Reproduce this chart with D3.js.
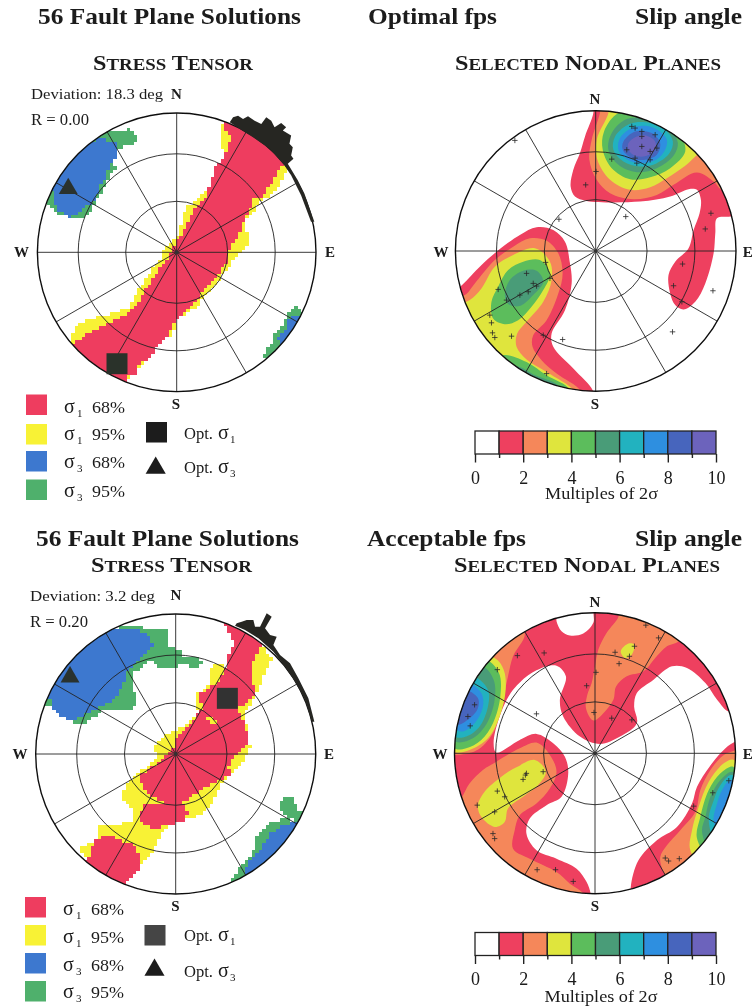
<!DOCTYPE html>
<html><head><meta charset="utf-8">
<script src="https://cdn.jsdelivr.net/npm/d3@7/dist/d3.min.js"></script>
<style>html,body{margin:0;padding:0;background:#fff}svg{display:block}text{font-family:"Liberation Serif",serif;fill:#1a1a1a}</style>
</head><body><svg id="c" width="752" height="1008"></svg>
<script>
// All regions: [east, north] in stereonet projection units, primitive circle = 420.
const multiples=[0,1,2,3,4,5,6,7,8,9,10];
const cardinal=["N","E","S","W"];
const spokeAzimuths=[0,30,60,90,120,150,180,210,240,270,300,330];
const ringPlunges=[30,60];
const legendNames=[["1","68%"],["1","95%"],["3","68%"],["3","95%"]];

// Panel A: optimal fps stress tensor
const aS1_95=[[258,327],[145,392],[130,372],[138,317],[142,277],[105,212],[70,167],[25,132],[15,92],[5,57],[-40,12],[-45,-18],[-90,-73],[-120,-123],[-145,-168],[-210,-188],[-270,-203],[-300,-218],[-323,-258],[-300,-303],[-150,-393],[-130,-363],[-110,-353],[-60,-283],[-25,-233],[-20,-253],[0,-228],[0,-203],[60,-163],[110,-103],[150,-58],[170,-28],[220,22],[220,47],[205,72],[215,107],[260,157],[310,197],[335,257],[330,267]];
const aS1_68=[[142,392],[145,372],[165,347],[155,317],[138,277],[110,252],[105,212],[85,167],[50,127],[35,92],[0,32],[-20,-3],[-30,-23],[-60,-63],[-90,-108],[-110,-143],[-145,-183],[-190,-208],[-240,-233],[-270,-248],[-295,-263],[-315,-273],[-330,-300],[-160,-400],[-150,-378],[-115,-363],[-115,-338],[-80,-318],[-60,-283],[-30,-258],[-15,-223],[25,-183],[60,-143],[80,-113],[120,-73],[150,-33],[160,7],[190,57],[205,107],[230,137],[235,172],[260,167],[290,217],[305,252],[330,267],[300,340],[250,380],[150,410]];
const aS3_95a=[[-200,362],[-145,370],[-112,347],[-115,332],[-175,312],[-190,267],[-185,257],[-210,217],[-235,167],[-265,117],[-280,102],[-305,99],[-335,112],[-370,122],[-390,147],[-420,160],[-400,260],[-300,340],[-210,390]];
const aS3_68a=[[-225,342],[-185,329],[-185,287],[-205,267],[-210,237],[-230,202],[-245,162],[-285,127],[-325,102],[-355,127],[-370,152],[-365,177],[-400,200],[-300,330]];
const aS3_95b=[[365,-161],[382,-178],[400,-190],[300,-320],[260,-318],[270,-288],[290,-273],[295,-243],[320,-218],[340,-178]];
const aS3_68b=[[350,-188],[370,-188],[390,-200],[320,-290],[315,-278],[305,-258],[330,-228],[335,-208]];
const aFringe=[[170,407],[185,412],[200,402],[215,410],[235,397],[255,387],[270,407],[285,397],[295,377],[315,390],[330,377],[320,367],[345,352],[340,327],[350,317],[345,292],[352,282],[335,267],[365,217],[385,177],[415,92],[405,92],[375,172],[345,232],[325,262],[280,312],[230,347],[190,372],[160,392]];
const aOptS1=[[-180,-336]];
const aOptS3=[[-327,192]];

// Panel C: acceptable fps stress tensor
const cS1_95=[[258,327],[291,287],[263,232],[238,172],[208,122],[218,52],[225,17],[198,-33],[173,-58],[143,-83],[113,-143],[63,-188],[33,-193],[-27,-218],[-52,-258],[-67,-288],[-97,-323],[-127,-363],[-152,-386],[-265,-318],[-292,-286],[-237,-258],[-232,-218],[-182,-213],[-132,-198],[-127,-163],[-167,-128],[-142,-83],[-122,-63],[-57,-13],[-65,22],[-37,52],[-7,67],[33,92],[78,132],[58,142],[58,177],[83,192],[103,212],[103,252],[123,270],[153,262],[168,292]];
const cS1_95patch=[[93,112],[113,107],[123,87],[98,92]];
const cS1_68a=[[143,392],[168,357],[173,332],[158,292],[153,262],[123,212],[73,182],[78,137],[43,92],[-2,47],[-7,22],[-37,-13],[-82,-48],[-115,-68],[-97,-98],[-67,-128],[-27,-148],[18,-148],[73,-108],[118,-83],[168,-63],[158,-38],[178,-3],[223,37],[208,82],[198,107],[183,132],[243,187],[223,222],[228,272],[258,327],[240,380],[160,410]];
const cS1_68b=[[-97,-153],[-27,-153],[18,-148],[38,-173],[23,-203],[-37,-213],[-57,-228],[-92,-208],[-112,-188]];
const cS1_68c=[[-247,-253],[-187,-246],[-127,-273],[-102,-318],[-112,-353],[-152,-383],[-180,-420],[-310,-320],[-265,-318],[-252,-288]];
const cS3_95a=[[-207,372],[-127,390],[-87,377],[-27,374],[-27,327],[18,312],[23,292],[73,287],[85,272],[58,257],[18,270],[-7,260],[-57,262],[-69,287],[-127,242],[-132,207],[-117,162],[-127,130],[-217,132],[-257,102],[-292,87],[-322,102],[-362,127],[-382,147],[-430,160],[-400,270],[-300,370]];
const cS3_68a=[[-197,370],[-117,374],[-82,354],[-69,327],[-102,287],[-142,257],[-162,202],[-182,162],[-232,142],[-267,122],[-302,102],[-337,110],[-365,132],[-372,162],[-420,180],[-380,270],[-290,360]];
const cS3_95b=[[318,-138],[343,-126],[358,-143],[363,-168],[388,-168],[430,-190],[320,-320],[170,-410],[168,-373],[208,-323],[233,-288],[243,-248],[283,-208],[323,-193],[353,-198],[308,-168]];
const cS3_68b=[[368,-203],[323,-213],[283,-238],[263,-273],[218,-318],[203,-363],[240,-370],[390,-220]];
const cFringe=[[183,392],[198,397],[213,402],[233,402],[238,382],[253,382],[273,422],[288,412],[268,377],[283,357],[303,352],[293,327],[313,297],[343,272],[368,227],[398,167],[416,97],[408,97],[388,162],[358,217],[328,262],[293,307],[248,347],[208,372],[178,385]];
const cOptS1=[[155,167]];
const cOptS3=[[-317,231]];

// Panel B: optimal fps nodal plane density, per contour level
const bNorth1=[[-7,413],[-32,343],[-47,293],[-67,243],[-75,193],[-62,163],[-27,150],[133,148],[223,163],[278,185],[303,183],[315,153],[311,113],[293,63],[278,8],[238,-32],[218,-72],[223,-127],[238,-162],[263,-175],[298,-152],[328,-97],[353,-7],[358,53],[363,98],[403,103],[440,110],[400,300],[250,400],[60,440],[-7,440]];
const bNorth2=[[13,415],[-12,333],[-19,273],[3,213],[43,173],[113,155],[183,168],[233,198],[303,235],[353,208],[378,183],[420,200],[350,350],[200,430],[13,440]];
const bNorth3=[[38,413],[3,333],[5,273],[43,213],[103,183],[163,191],[213,218],[268,255],[298,283],[340,320],[220,430],[38,440]];
const bNorth4=[[68,413],[25,358],[21,303],[48,248],[103,215],[163,221],[223,248],[268,298],[253,348],[203,388],[133,413]];
const bNorth5=[[93,395],[48,353],[38,303],[68,258],[123,236],[183,248],[233,285],[246,323],[223,363],[163,393]];
const bNorth6=[[103,381],[58,343],[53,303],[83,268],[133,253],[183,263],[221,293],[231,328],[208,363],[163,383]];
const bNorth7=[[108,368],[73,338],[68,303],[93,275],[138,263],[183,275],[208,303],[213,333],[188,361],[148,375]];
const bNorth8=[[118,358],[83,328],[81,303],[108,278],[148,273],[183,288],[193,323],[168,353]];
const bNorth9=[[123,343],[98,323],[98,303],[118,285],[153,285],[178,303],[178,328],[153,345]];
const bWest1=[[-400,-102],[-347,-47],[-297,-2],[-227,48],[-177,71],[-127,63],[-92,28],[-77,-37],[-72,-97],[-92,-177],[-132,-247],[-127,-287],[-67,-352],[-9,-417],[-9,-440],[-230,-400],[-380,-230],[-430,-130]];
const bWest2=[[-392,-132],[-362,-97],[-302,-27],[-247,13],[-197,38],[-147,31],[-112,-7],[-99,-67],[-112,-127],[-147,-207],[-187,-252],[-189,-287],[-162,-327],[-117,-367],[-47,-417],[-47,-440],[-250,-400],[-400,-220],[-430,-140]];
const bWest3=[[-377,-147],[-342,-112],[-302,-47],[-247,-12],[-182,8],[-137,-32],[-132,-87],[-157,-152],[-207,-212],[-235,-247],[-237,-287],[-207,-325],[-147,-362],[-67,-417],[-67,-440],[-250,-400],[-400,-230],[-420,-170]];
const bWest4=[[-312,-152],[-292,-107],[-262,-57],[-217,-32],[-167,-27],[-137,-67],[-157,-117],[-192,-167],[-232,-207],[-272,-219],[-307,-202]];
const bWest5=[[-272,-132],[-257,-87],[-217,-59],[-177,-59],[-157,-92],[-187,-132],[-227,-165],[-262,-159]];
const bSouth4=[[-277,-312],[-207,-332],[-147,-372],[-82,-412],[-100,-440],[-300,-340]];
const bSouth5=[[-240,-345],[-180,-372],[-110,-405],[-110,-440],[-260,-370]];
const bPoles=[[118,368],[138,358],[108,373],[178,348],[138,343],[138,313],[93,303],[163,298],[118,278],[123,263],[183,308],[163,273],[48,275],[1,238],[-30,198],[-242,331],[-110,95],[90,103],[345,113],[328,66],[260,-39],[233,-104],[258,-152],[351,-119],[230,-242],[-150,-34],[-207,-67],[-187,-97],[-177,-105],[-202,-122],[-292,-115],[-267,-147],[-227,-132],[-317,-192],[-312,-215],[-309,-245],[-302,-259],[-252,-255],[-157,-252],[-99,-265],[-147,-367],[-137,-82]];

// Panel D: acceptable fps nodal plane density, per contour level
const dMain1=[[-115,395],[-100,365],[-75,352],[-35,358],[-5,390],[0,435],[150,420],[350,300],[430,140],[400,125],[365,160],[330,210],[275,255],[230,260],[175,220],[125,180],[117,140],[125,90],[75,50],[15,28],[-45,50],[-95,110],[-105,160],[-87,230],[-115,262],[-175,248],[-245,190],[-285,110],[-303,30],[-295,2],[-225,40],[-175,58],[-125,30],[-90,-10],[-80,-60],[-100,-130],[-145,-155],[-195,-195],[-205,-240],[-175,-290],[-115,-315],[-55,-345],[-25,-385],[-13,-420],[-13,-440],[-250,-370],[-430,-100],[-430,100],[-270,350],[-115,420]];
const dEast1=[[420,35],[390,15],[350,-30],[305,-100],[290,-150],[245,-220],[185,-260],[130,-320],[107,-400],[110,-430],[300,-340],[440,-100],[440,40]];
const dNw2=[[-210,358],[-245,290],[-260,230],[-280,140],[-305,60],[-355,8],[-420,-5],[-440,0],[-420,200],[-250,400]];
const dTop2=[[70,408],[35,360],[10,310],[0,260],[-10,210],[-23,175],[-27,135],[-5,98],[25,120],[55,160],[63,200],[95,230],[145,245],[180,285],[215,320],[250,335],[280,400],[70,440]];
const dSw2=[[-405,-140],[-375,-90],[-335,-50],[-295,-25],[-225,15],[-175,32],[-135,-5],[-115,-55],[-135,-105],[-175,-150],[-225,-185],[-240,-230],[-245,-285],[-195,-315],[-115,-355],[-75,-390],[-35,-420],[-35,-440],[-250,-380],[-430,-150]];
const dEast2=[[420,10],[385,-5],[345,-50],[315,-110],[300,-175],[255,-230],[215,-275],[195,-310],[205,-355],[240,-400],[450,-100],[450,30]];
const dSw3=[[-350,-155],[-330,-115],[-280,-70],[-235,-42],[-180,-20],[-147,-55],[-170,-95],[-215,-130],[-260,-165],[-270,-205],[-300,-220],[-340,-190]];
const dTop3=[[77,305],[100,328],[117,325],[110,295],[90,285]];
const dNw3=[[-300,285],[-273,250],[-267,190],[-285,110],[-320,45],[-375,10],[-420,5],[-440,100],[-400,300]];
const dNw4=[[-325,280],[-287,240],[-283,170],[-305,90],[-340,40],[-385,15],[-420,15],[-440,100],[-420,280]];
const dNw5=[[-335,260],[-303,220],[-300,160],[-323,90],[-365,45],[-417,35],[-440,100],[-420,270]];
const dNw6=[[-360,230],[-320,190],[-320,140],[-345,80],[-385,50],[-419,50],[-440,120],[-400,240]];
const dNw7=[[-380,210],[-340,180],[-335,140],[-360,90],[-400,65],[-440,100],[-420,190]];
const dNw8=[[-390,190],[-350,165],[-350,135],[-380,100],[-415,85],[-440,120],[-420,170]];
const dEast3=[[415,-20],[385,-30],[340,-85],[310,-160],[290,-230],[285,-290],[340,-350],[440,-120]];
const dEast4=[[413,-40],[375,-60],[340,-110],[315,-190],[305,-255],[360,-330],[440,-120]];
const dEast5=[[410,-55],[375,-80],[345,-130],[330,-190],[320,-235],[360,-320],[440,-100]];
const dEast6=[[407,-65],[375,-95],[355,-140],[340,-200],[370,-290],[440,-100]];
const dEast7=[[405,-80],[380,-110],[365,-150],[355,-205],[390,-260],[440,-100]];
const dEast8=[[403,-120],[390,-150],[380,-185],[420,-190],[440,-110]];
const dPoles=[[152,383],[190,345],[118,320],[60,302],[103,290],[72,268],[3,242],[-25,202],[-3,122],[50,105],[110,100],[-152,300],[-232,292],[-292,250],[-175,118],[-360,145],[-380,110],[-373,82],[-155,-55],[-208,-65],[-215,-78],[-205,-60],[-292,-113],[-270,-130],[-352,-155],[-300,-175],[-305,-240],[-300,-255],[-173,-348],[-118,-348],[-65,-383],[295,-158],[352,-118],[210,-313],[220,-322],[252,-315],[400,-82]];

const red="#ee3d5f",yellow="#f8f235",blue="#3d78cf",green="#4fb06c";
const levelColors=["#ffffff","#ee3f5e","#f5875a","#dfe53e","#5cbd5c","#4a9c78","#22b2bf","#2f8fe0","#4765bd","#6c63bc"];

const bContours=[[1,bNorth1],[1,bWest1],[2,bNorth2],[2,bWest2],[3,bNorth3],[3,bWest3],[4,bNorth4],[4,bWest4],[4,bSouth4],[5,bNorth5],[5,bWest5],[5,bSouth5],[6,bNorth6],[7,bNorth7],[8,bNorth8],[9,bNorth9]];
const dContours=[[1,dMain1],[1,dEast1],[2,dNw2],[2,dTop2],[2,dSw2],[2,dEast2],[3,dSw3],[3,dTop3],[3,dNw3],[3,dEast3],[4,dNw4],[4,dEast4],[5,dNw5],[5,dEast5],[6,dNw6],[6,dEast6],[7,dNw7],[7,dEast7],[8,dNw8],[8,dEast8]];
const aRegions=[[yellow,aS1_95],[red,aS1_68],[green,aS3_95a],[blue,aS3_68a],[green,aS3_95b],[blue,aS3_68b]];
const cRegions=[[yellow,cS1_95],[red,cS1_68a],[red,cS1_68b],[red,cS1_68c],[yellow,cS1_95patch],[green,cS3_95a],[blue,cS3_68a],[green,cS3_95b],[blue,cS3_68b]];

const svg=d3.select("#c");
const defs=svg.append("defs");
defs.append("filter").attr("id","scanT").attr("filterUnits","userSpaceOnUse").attr("x",0).attr("y",0).attr("width",752).attr("height",1008)
  .append("feGaussianBlur").attr("stdDeviation",0.45);
const root=svg.append("g").attr("filter","url(#scanT)");

function txt(s,x,y,size,opts={}){
  const t=root.append("text").attr("x",x).attr("y",y).attr("font-size",size).text(s);
  if(opts.bold)t.attr("font-weight","bold");
  if(opts.anchor)t.attr("text-anchor",opts.anchor);
  if(opts.len)t.attr("textLength",opts.len).attr("lengthAdjust","spacingAndGlyphs");
  return t;
}
function smallCaps(s,x,y,len){
  const t=root.append("text").attr("x",x).attr("y",y).attr("font-weight","bold")
    .attr("textLength",len).attr("lengthAdjust","spacingAndGlyphs");
  s.split(" ").forEach((w,i)=>{
    t.append("tspan").attr("font-size",20.5).text((i?" ":"")+w[0]);
    t.append("tspan").attr("font-size",16).text(w.slice(1).toUpperCase());
  });
}
function blocks(poly,sx,sy,step){
  let p="";
  for(let e=-444;e<444;e+=step)for(let n=-444;n<444;n+=step){
    if(d3.polygonContains(poly,[e+step/2,n+step/2])){
      const x0=sx(e),x1=sx(e+step),y0=sy(n+step),y1=sy(n);
      p+=`M${x0} ${y0}H${x1}V${y1}H${x0}Z`;
    }
  }
  return p;
}
function net(id,cx,cy,r,drawRegions,after){
  const sx=d3.scaleLinear().domain([-420,420]).range([cx-r,cx+r]);
  const sy=d3.scaleLinear().domain([-420,420]).range([cy+r,cy-r]);
  const g=root.append("g");
  defs.append("clipPath").attr("id",id).append("circle").attr("cx",cx).attr("cy",cy).attr("r",r);
  const marks=g.append("g").attr("clip-path",`url(#${id})`);
  drawRegions(marks,sx,sy);
  const ringR=p=>r*Math.SQRT2*Math.sin(p*Math.PI/360);
  g.selectAll("circle.ring").data(ringPlunges).join("circle").attr("class","ring")
    .attr("cx",cx).attr("cy",cy).attr("r",ringR).attr("fill","none").attr("stroke","#222").attr("stroke-width",0.9);
  g.selectAll("line.spoke").data(spokeAzimuths).join("line").attr("class","spoke")
    .attr("x1",cx).attr("y1",cy)
    .attr("x2",a=>cx+r*Math.sin(a*Math.PI/180)).attr("y2",a=>cy-r*Math.cos(a*Math.PI/180))
    .attr("stroke","#222").attr("stroke-width",0.9);
  g.append("circle").attr("cx",cx).attr("cy",cy).attr("r",r).attr("fill","none").attr("stroke","#111").attr("stroke-width",1.4);
  g.append("circle").attr("cx",cx).attr("cy",cy).attr("r",1.8).attr("fill","#333");
  if(after)after(g,sx,sy);
}
function stressDraw(regions){
  return (m,sx,sy)=>{
    m.selectAll("path.reg").data(regions).join("path").attr("class","reg")
      .attr("fill",d=>d[0]).attr("d",d=>blocks(d[1],sx,sy,10.5)).attr("shape-rendering","crispEdges");
  };
}
function contourDraw(list){
  return (m,sx,sy)=>{
    const line=d3.line().x(d=>sx(d[0])).y(d=>sy(d[1])).curve(d3.curveCatmullRomClosed.alpha(0.5));
    m.selectAll("path.con").data(list).join("path").attr("class","con")
      .attr("fill",d=>levelColors[d[0]]).attr("d",d=>line(d[1]));
  };
}
function stressAfter(fringe,sq,tri,sqFill){
  return (g,sx,sy)=>{
    g.append("path").attr("d",d3.line().x(d=>sx(d[0])).y(d=>sy(d[1]))(fringe)+"Z").attr("fill","#262622");
    g.selectAll("rect.sq").data(sq).join("rect").attr("class","sq")
      .attr("x",d=>sx(d[0])-10.5).attr("y",d=>sy(d[1])-10.5).attr("width",21).attr("height",21).attr("fill",sqFill);
    const s=d3.symbol(d3.symbolTriangle,155);
    g.selectAll("path.tri").data(tri).join("path").attr("class","tri")
      .attr("transform",d=>`translate(${sx(d[0])},${sy(d[1])})`).attr("d",s).attr("fill","#2b332f");
  };
}
function polesAfter(pts){
  return (g,sx,sy)=>{
    g.selectAll("path.pole").data(pts).join("path").attr("class","pole")
      .attr("d",d=>`M${sx(d[0])-2.7} ${sy(d[1])}h5.4M${sx(d[0])} ${sy(d[1])-2.7}v5.4`)
      .attr("stroke","#2a2a2a").attr("stroke-width",0.8).attr("fill","none");
  };
}
function legend(x,ys,labelYs,optSq,optTri,optYs,sqFill){
  const cols=[red,yellow,blue,green];
  legendNames.forEach((n,i)=>{
    root.append("rect").attr("x",x).attr("y",ys[i]).attr("width",21).attr("height",20.5).attr("fill",cols[i]);
    txt("σ",x+38,labelYs[i],20);
    txt(n[0],x+51,labelYs[i]+4,11);
    txt(n[1],x+66,labelYs[i],17,{len:33});
  });
  root.append("rect").attr("x",optSq[0]).attr("y",optSq[1]).attr("width",21).attr("height",20.5).attr("fill",sqFill);
  root.append("path").attr("transform",`translate(${optTri[0]},${optTri[1]})`).attr("d",d3.symbol(d3.symbolTriangle,175)).attr("fill","#1c1c1c");
  optYs.forEach((y,i)=>{
    txt("Opt.",184,y,16.5,{len:29});
    txt("σ",218,y,20);
    txt(i?"3":"1",230,y+4,11);
  });
}
function colorbar(y,h){
  const x=d3.scaleLinear().domain([0,10]).range([475,716]);
  const g=root.append("g");
  g.selectAll("rect").data(multiples.slice(0,10)).join("rect")
    .attr("x",d=>x(d)).attr("y",y).attr("width",d=>x(d+1)-x(d)).attr("height",h)
    .attr("fill",d=>levelColors[d]).attr("stroke","#222").attr("stroke-width",1.3);
  const ax=g.append("g").attr("transform",`translate(0,${y+h})`)
    .call(d3.axisBottom(x).tickValues(multiples).tickSize(8).tickPadding(9).tickFormat(d=>d%2?"":d));
  ax.select(".domain").remove();
  ax.selectAll("line").attr("stroke","#222").attr("stroke-width",1.4).attr("y2",d=>d%2?4:8.5);
  ax.selectAll("text").attr("font-size",18).attr("font-family","Liberation Serif").attr("fill","#1a1a1a");
}

// Panels
net("ca",176.7,252.3,139.3,stressDraw(aRegions),stressAfter(aFringe,aOptS1,aOptS3,"#2b332b"));
net("cb",595.7,251,140.3,contourDraw(bContours),polesAfter(bPoles));
net("cc",175.7,754,140,stressDraw(cRegions),stressAfter(cFringe,cOptS1,cOptS3,"#333"));
net("cd",595,753.3,140.5,contourDraw(dContours),polesAfter(dPoles));

// Titles
txt("56 Fault Plane Solutions",38,24,23,{bold:1,len:263});
txt("Optimal fps",368,24,23,{bold:1,len:129});
txt("Slip angle",635,24,23,{bold:1,len:107});
smallCaps("Stress Tensor",93,70,160);
smallCaps("Selected Nodal Planes",455,70,266);
txt("56 Fault Plane Solutions",36,546,23,{bold:1,len:263});
txt("Acceptable fps",367,546,23,{bold:1,len:159});
txt("Slip angle",635,546,23,{bold:1,len:107});
smallCaps("Stress Tensor",91,572,161);
smallCaps("Selected Nodal Planes",454,572,266);

txt("Deviation: 18.3 deg",31,99,15.5,{len:132});
txt("R = 0.00",31,125,16,{len:58});
txt("Deviation: 3.2 deg",30,601,15.5,{len:125});
txt("R = 0.20",30,627,16,{len:58});

function compass(n,e,s,w){
  cardinal.forEach((c,i)=>{
    const p=[n,e,s,w][i];
    txt(c,p[0],p[1],15,{bold:1,anchor:"middle"});
  });
}
compass([176.5,99],[330,257],[176,409],[21.5,257]);
compass([595,104],[747.7,257],[595,409],[441,257]);
compass([176,600],[329,759],[175.5,911],[20,759]);
compass([595,606.7],[747.7,759],[595,911],[440,759]);

legend(26,[394.5,424,451,479.5],[413,440,468,497],[146,422],[155.7,468],[439,473],"#1c1c1c");
legend(25,[897,925,953,981],[915,943,971,998],[144.5,925],[154.5,970],[941,977],"#444");

colorbar(431,23);
txt("Multiples of 2σ",601.5,499,17.5,{anchor:"middle",len:113});
colorbar(932.5,23);
txt("Multiples of 2σ",601,1002,17.5,{anchor:"middle",len:113});
</script></body></html>
